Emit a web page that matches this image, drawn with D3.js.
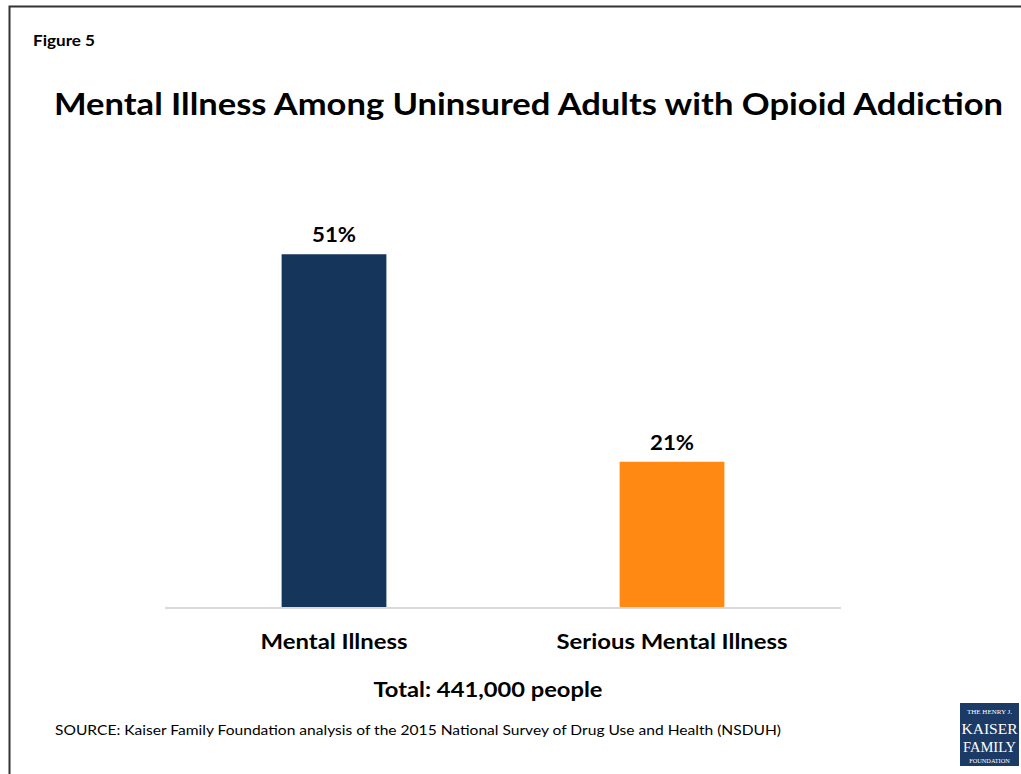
<!DOCTYPE html>
<html>
<head>
<meta charset="utf-8">
<script src="https://cdn.jsdelivr.net/npm/d3@7"></script>
<style>
  html, body { margin: 0; padding: 0; background: #fff; }
  svg { display: block; }
</style>
</head>
<body>
<svg id="chart" width="1021" height="774"></svg>
<script>
// Share of uninsured adults with opioid addiction who have a mental illness
const categories = ["Mental Illness", "Serious Mental Illness"];
const values = [51, 21];
const valueLabels = ["51%", "21%"];
const barColors = ["#15365a", "#ff8913"];

const svg = d3.select("#chart");
const font = "Lato, 'Open Sans', sans-serif";

// outer frame (top and left edges visible)
svg.append("rect")
  .attr("x", 9.5).attr("y", 6.5)
  .attr("width", 1030).attr("height", 800)
  .attr("fill", "none")
  .attr("stroke", "#333").attr("stroke-width", 2);

svg.append("text")
  .attr("x", 33).attr("y", 46)
  .attr("font-family", font).attr("font-weight", 700)
  .attr("font-size", 16).attr("fill", "#000")
  .attr("textLength", 62).attr("lengthAdjust", "spacingAndGlyphs")
  .text("Figure 5");

svg.append("text")
  .attr("x", 54).attr("y", 115)
  .attr("font-family", font).attr("font-weight", 700)
  .attr("font-size", 31).attr("fill", "#000")
  .attr("textLength", 949).attr("lengthAdjust", "spacingAndGlyphs")
  .text("Mental Illness Among Uninsured Adults with Opioid Addiction");

const x = d3.scaleBand()
  .domain(categories)
  .range([165, 841])
  .paddingInner(0.69)
  .paddingOuter(0.345);

const y = d3.scaleLinear()
  .domain([0, 60])
  .range([607, 192]);

svg.append("g")
  .selectAll("rect")
  .data(categories)
  .join("rect")
  .attr("x", d => x(d))
  .attr("y", (d, i) => y(values[i]))
  .attr("width", x.bandwidth())
  .attr("height", (d, i) => y(0) - y(values[i]))
  .attr("fill", (d, i) => barColors[i]);

// baseline
svg.append("line")
  .attr("x1", 165).attr("x2", 841)
  .attr("y1", y(0) + 1).attr("y2", y(0) + 1)
  .attr("stroke", "#d9d9d9").attr("stroke-width", 2);

// value labels
const valueWidths = [44, 44];
svg.append("g")
  .selectAll("text")
  .data(categories)
  .join("text")
  .attr("x", d => x(d) + x.bandwidth() / 2)
  .attr("y", (d, i) => y(values[i]) - 12)
  .attr("text-anchor", "middle")
  .attr("font-family", font).attr("font-weight", 700)
  .attr("font-size", 21).attr("fill", "#000")
  .attr("textLength", (d, i) => valueWidths[i]).attr("lengthAdjust", "spacingAndGlyphs")
  .text((d, i) => valueLabels[i]);

// category axis labels
const labelWidths = [147, 231];
const xAxis = d3.axisBottom(x).tickSize(0).tickPadding(0);
const gx = svg.append("g")
  .attr("transform", `translate(0,${y(0)})`)
  .call(xAxis);
gx.select(".domain").remove();
gx.selectAll("text")
  .attr("dy", null)
  .attr("y", 42)
  .attr("font-family", font).attr("font-weight", 700)
  .attr("font-size", 21).attr("fill", "#000")
  .attr("textLength", (d, i) => labelWidths[i]).attr("lengthAdjust", "spacingAndGlyphs");

svg.append("text")
  .attr("x", 488).attr("y", 697)
  .attr("text-anchor", "middle")
  .attr("font-family", font).attr("font-weight", 700)
  .attr("font-size", 20).attr("fill", "#000")
  .attr("textLength", 229).attr("lengthAdjust", "spacingAndGlyphs")
  .text("Total: 441,000 people");

svg.append("text")
  .attr("x", 55).attr("y", 735)
  .attr("font-family", font)
  .attr("font-size", 14).attr("fill", "#000")
  .attr("textLength", 726).attr("lengthAdjust", "spacingAndGlyphs")
  .text("SOURCE: Kaiser Family Foundation analysis of the 2015 National Survey of Drug Use and Health (NSDUH)");

// foundation logo
const logo = svg.append("g").attr("transform", "translate(960,703)");
logo.append("rect")
  .attr("width", 59).attr("height", 63)
  .attr("fill", "#1b3a66");
const serif = "'Liberation Serif', 'DejaVu Serif', serif";
const logoLines = [
  { text: "THE HENRY J.", y: 11, size: 7 },
  { text: "KAISER", y: 31, size: 15.5 },
  { text: "FAMILY", y: 49, size: 14.5 },
  { text: "FOUNDATION", y: 59.5, size: 6.3 }
];
logo.selectAll("text")
  .data(logoLines)
  .join("text")
  .attr("x", 29.5).attr("y", d => d.y)
  .attr("text-anchor", "middle").attr("font-family", serif)
  .attr("font-size", d => d.size).attr("fill", "#fff")
  .text(d => d.text);
</script>
</body>
</html>
